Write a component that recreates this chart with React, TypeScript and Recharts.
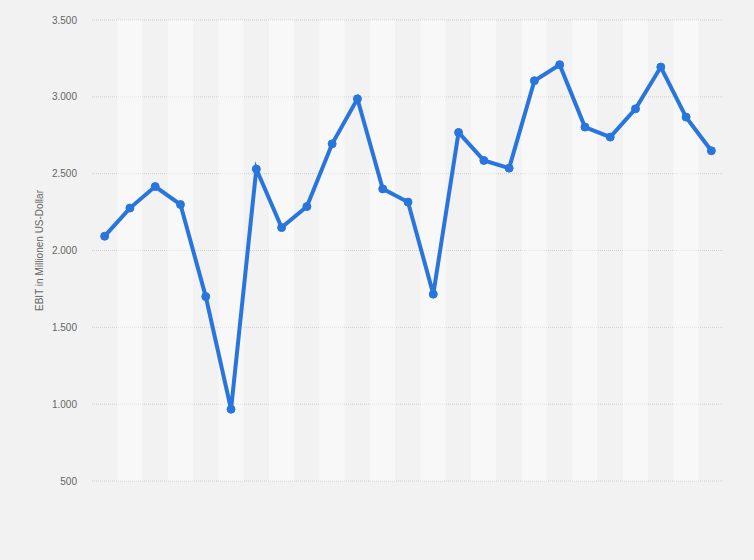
import React from 'react';
import { ComposedChart, Line, Bar, XAxis, YAxis, CartesianGrid } from 'recharts';

const years = [
  '1995', '1996', '1997', '1998', '1999', '2000', '2001', '2002', '2003', '2004',
  '2005', '2006', '2007', '2008', '2009', '2010', '2011', '2012', '2013', '2014',
  '2015', '2016', '2017', '2018', '2019',
];

const ebit = [
  2093, 2276, 2416, 2299, 1700, 967, 2530, 2149, 2286, 2694,
  2987, 2401, 2315, 1716, 2768, 2586, 2536, 3105, 3209, 2803,
  2738, 2922, 3194, 2868, 2649,
];

const yTicks = [500, 1000, 1500, 2000, 2500, 3000, 3500];

const yLabel = 'EBIT in Millionen US-Dollar';

const LINE_COLOR = '#2876dd';

const fmt = (v: number) => String(v).replace(/\B(?=(\d{3})+(?!\d))/g, '.');

const data = years.map((year, i) => ({
  year,
  ebit: ebit[i],
  stripe: i % 2 === 1 ? [yTicks[0], yTicks[yTicks.length - 1]] : null,
}));

export default function App() {
  return (
    <div
      style={{
        position: 'absolute',
        left: 0,
        top: 0,
        width: 754,
        height: 560,
        background: '#f2f2f2',
        fontFamily: '"Liberation Sans", Arial, sans-serif',
      }}
    >
      <ComposedChart
        width={754}
        height={560}
        data={data}
        margin={{ top: 20, right: 30, bottom: 79, left: 0 }}
        barCategoryGap={0}
        barGap={0}
      >
        <CartesianGrid vertical={false} stroke="#cfcfcf" strokeDasharray="1 1" />
        <XAxis dataKey="year" hide />
        <YAxis
          width={92}
          domain={[yTicks[0], yTicks[yTicks.length - 1]]}
          ticks={yTicks}
          interval={0}
          tickFormatter={fmt}
          axisLine={false}
          tickLine={false}
          tickSize={0}
          tickMargin={15}
          tick={{ fill: '#666', fontSize: 10 }}
          label={{
            value: yLabel,
            angle: -90,
            position: 'insideLeft',
            offset: 39,
            style: { textAnchor: 'middle', fill: '#666', fontSize: 10 },
          }}
        />
        <Bar dataKey="stripe" fill="#ffffff" fillOpacity={0.45} isAnimationActive={false} />
        <Line
          type="linear"
          dataKey="ebit"
          stroke={LINE_COLOR}
          strokeWidth={4}
          dot={{ r: 4, fill: LINE_COLOR, stroke: LINE_COLOR, strokeWidth: 1 }}
          activeDot={false}
          isAnimationActive={false}
        />
      </ComposedChart>
    </div>
  );
}
